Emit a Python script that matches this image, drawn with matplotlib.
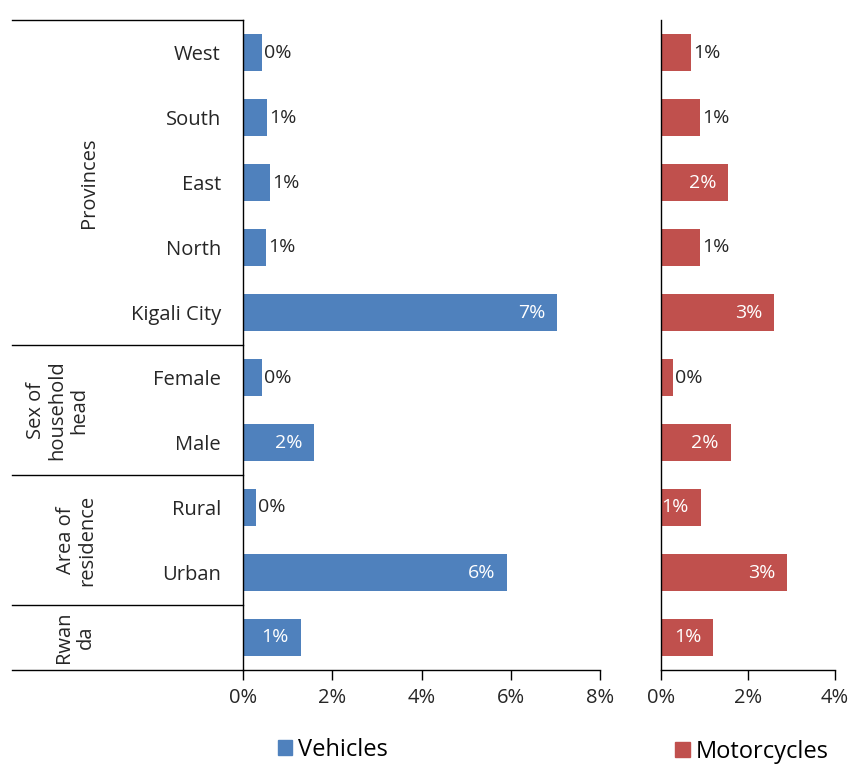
import matplotlib
matplotlib.use("Agg")
import matplotlib.pyplot as plt
import matplotlib.transforms as mtransforms
from matplotlib.patches import Patch

plt.rcParams["font.family"] = ["Open Sans", "DejaVu Sans"]
plt.rcParams["font.size"] = 12

# data
categories = ["West", "South", "East", "North", "Kigali City",
              "Female", "Male", "Rural", "Urban", ""]
vehicles = [0.43, 0.54, 0.60, 0.52, 7.04, 0.43, 1.60, 0.30, 5.92, 1.30]
motorcycles = [0.69, 0.90, 1.55, 0.90, 2.60, 0.28, 1.60, 0.92, 2.90, 1.20]
vehicles_inside = [False, False, False, False, True, False, True, False, True, True]
motorcycles_inside = [False, False, True, False, True, False, True, True, True, True]
groups = ["Provinces", "Sex of\nhousehold\nhead", "Area of\nresidence", "Rwan\nda"]
group_rows = [(0, 4), (5, 6), (7, 8), (9, 9)]
group_label_x = [-0.43, -0.52, -0.465, -0.47]
vehicle_ticks = [0, 2, 4, 6, 8]
moto_ticks = [0, 2, 4]

BLUE = "#4F81BD"
RED = "#C0504D"
TEXT = "#262626"

fig = plt.figure(figsize=(8.52, 7.67), dpi=100)
ax1 = fig.add_axes([243 / 852, 97 / 767, 357 / 852, 650 / 767])
ax2 = fig.add_axes([661 / 852, 97 / 767, 174 / 852, 650 / 767])

ypos = list(range(len(categories)))


def draw_panel(ax, values, inside, color, ticks):
    ax.barh(ypos, values, height=0.58, color=color)
    for y, v, ins in zip(ypos, values, inside):
        if ins:
            ax.annotate(f"{v:.0f}%", (v, y), xytext=(-12, 0), textcoords="offset pixels",
                        ha="right", va="center", color="white", fontsize=14)
        else:
            ax.annotate(f"{v:.0f}%", (v, y), xytext=(2, 0), textcoords="offset pixels",
                        ha="left", va="center", color=TEXT, fontsize=14)
    ax.set_ylim(len(categories) - 0.5, -0.5)
    ax.set_xlim(ticks[0], ticks[-1])
    ax.set_xticks(ticks)
    ax.set_xticklabels([f"{t}%" for t in ticks], color=TEXT, fontsize=14.5)
    ax.spines[["top", "right"]].set_visible(False)
    ax.spines[["left", "bottom"]].set_color("black")
    ax.spines[["left", "bottom"]].set_linewidth(1.0)
    ax.tick_params(axis="x", direction="out", length=7, width=1, pad=6)
    ax.tick_params(axis="y", length=0)


draw_panel(ax1, vehicles, vehicles_inside, BLUE, vehicle_ticks)
draw_panel(ax2, motorcycles, motorcycles_inside, RED, moto_ticks)

ax1.set_yticks(ypos)
ax1.set_yticklabels(categories, color=TEXT, fontsize=14.5)
ax1.tick_params(axis="y", pad=16)
ax2.set_yticks([])

# group brackets on the left
trans = mtransforms.blended_transform_factory(ax1.transAxes, ax1.transData)
x_left = (12 - 243) / 357
bounds = [-0.5] + [r[1] + 0.5 for r in group_rows]
for b in bounds:
    ax1.plot([x_left, 0], [b, b], color="black", lw=1.0, transform=trans, clip_on=False)
for name, (r0, r1), gx in zip(groups, group_rows, group_label_x):
    ax1.text(gx, (r0 + r1) / 2, name, rotation=90, ha="center", va="center",
             multialignment="center", color=TEXT, fontsize=14.5, linespacing=1.1,
             transform=trans)

# legends
fig.legend(handles=[Patch(color=BLUE, label="Vehicles")], loc="center",
           bbox_to_anchor=(333 / 852, 1 - 750 / 767), frameon=False,
           fontsize=17, handlelength=0.6, handleheight=0.6, handletextpad=0.25)
fig.legend(handles=[Patch(color=RED, label="Motorcycles")], loc="center",
           bbox_to_anchor=(752 / 852, 1 - 752 / 767), frameon=False,
           fontsize=17, handlelength=0.6, handleheight=0.6, handletextpad=0.25)

fig.savefig("out.png", dpi=100)
plt.close(fig)
